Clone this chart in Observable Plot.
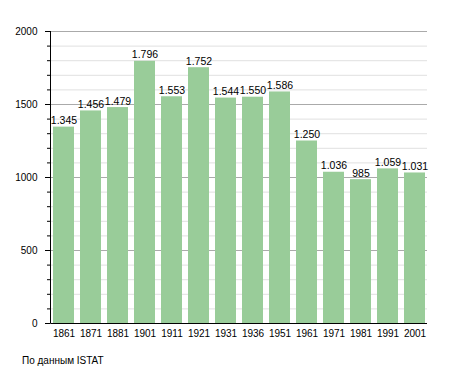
<!DOCTYPE html>
<html><head><meta charset="utf-8">
<script src="https://cdn.jsdelivr.net/npm/d3@7"></script>
<script src="https://cdn.jsdelivr.net/npm/@observablehq/plot@0.6"></script>
<style>
body{margin:0;background:#fff;font-family:"Liberation Sans",Arial,sans-serif;}
#wrap{position:relative;width:455px;height:373px;}
#cap{position:absolute;left:22px;top:355px;font-size:10px;color:#000;}
</style></head><body><div id="wrap"><div id="chart"></div><div id="cap">По данным ISTAT</div></div>
<script>
const years = ["1861","1871","1881","1901","1911","1921","1931","1936","1951","1961","1971","1981","1991","2001"];
const population = [1345,1456,1479,1796,1553,1752,1544,1550,1586,1250,1036,985,1059,1031];
const majorTicks = [0,500,1000,1500,2000];
const minorTicks = d3.range(100,2000,100).filter(v => v % 500 !== 0);

const data = years.map((y,i) => ({year:y, value:population[i]}));
const fmt = v => String(v).replace(/\B(?=(\d{3})+(?!\d))/g, ".");

function axisLines(index, scales, values, dim) {
  const g = d3.create("svg:g");
  const x0 = dim.marginLeft + 0.5, x1 = dim.width - dim.marginRight;
  const y0 = scales.y(0) + 0.5, y1 = scales.y(2000);
  g.append("line").attr("x1", x0).attr("x2", x0).attr("y1", y1).attr("y2", y0).attr("stroke", "#000");
  g.append("line").attr("x1", x0).attr("x2", x1).attr("y1", y0).attr("y2", y0).attr("stroke", "#000");
  return g.node();
}

const chart = Plot.plot({
  width:455, height:345,
  marginTop:31, marginBottom:22, marginLeft:50, marginRight:28,
  style:{fontFamily:'"Liberation Sans",Arial,sans-serif', fontSize:"10px", color:"#000"},
  x:{domain:years, paddingInner:0.24, paddingOuter:0.03, label:null},
  y:{domain:[0,2000], label:null},
  marks:[
    Plot.ruleY(minorTicks,{stroke:"#e0e0e0", strokeOpacity:1}),
    Plot.ruleY(majorTicks.filter(v=>v>0),{stroke:"#aaaaaa", strokeOpacity:1}),
    Plot.barY(data,{x:"year", y:"value", fill:"#99cc99"}),
    Plot.text(data,{x:"year", y:"value", text:d=>fmt(d.value), lineAnchor:"bottom", dy:-3, fontSize:10.5, fill:"#000"}),
    Plot.axisY(minorTicks,{tickSize:3, tickFormat:()=>"", stroke:"#000"}),
    Plot.axisY(majorTicks,{tickSize:5, tickPadding:8, tickFormat:d=>String(d), stroke:"#000"}),
    Plot.axisX({tickSize:0, tickPadding:6}),
    axisLines
  ]
});
document.getElementById("chart").appendChild(chart);
</script></body></html>
